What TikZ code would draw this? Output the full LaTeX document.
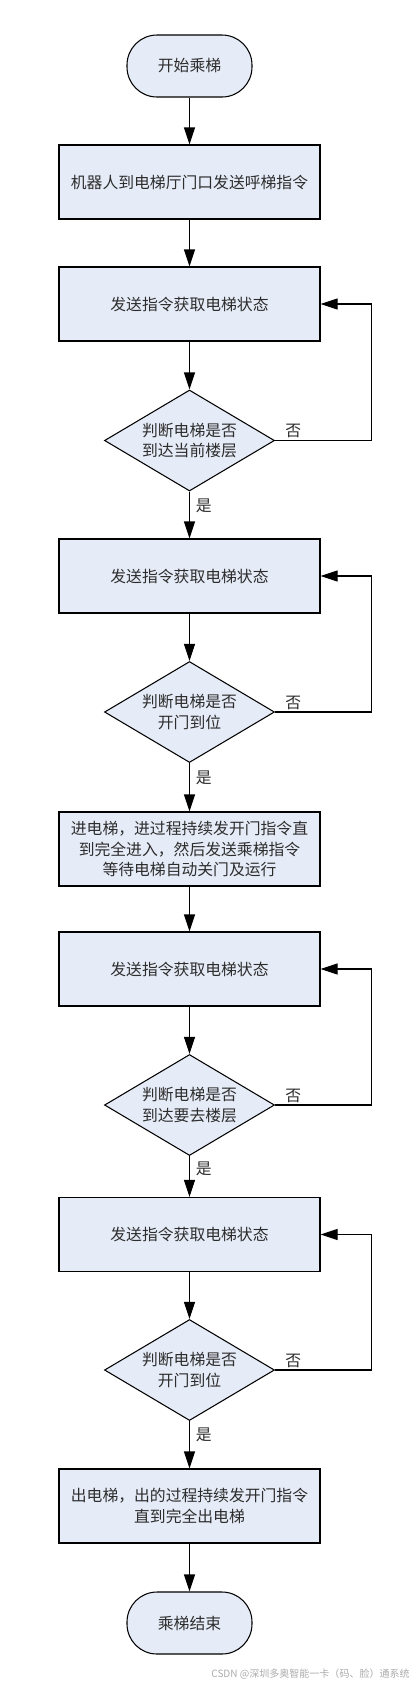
\documentclass[tikz,border=0pt]{standalone}
\usepackage{fontspec}
\setmainfont{Noto Sans CJK SC}
\usetikzlibrary{shapes.geometric,arrows.meta}
\definecolor{boxfill}{RGB}{230,236,247}
\definecolor{txt}{RGB}{45,45,45}
\begin{document}
\begin{tikzpicture}[line width=0.6pt, >={Triangle[length=3.4mm,width=2.2mm]},
    every node/.style={text=txt, font=\fontsize{9}{11.5}\selectfont},
    proc/.style={rectangle, draw, fill=boxfill, minimum width=5.22cm, minimum height=1.48cm, align=center},
    term/.style={rectangle, draw, fill=boxfill, rounded corners=0.6cm, minimum width=2.5cm, minimum height=1.24cm},
    decide/.style={diamond, draw, fill=boxfill, shape aspect=1.7, minimum width=3.4cm, minimum height=2.02cm, inner sep=0pt, align=center}]
      \useasboundingbox (0, 0) rectangle (8.38, -33.7);

      \node[term] (1) at (3.79, -1.32) {开始乘梯};
      \node[proc] (2) at (3.79, -3.64) {机器人到电梯厅门口发送呼梯指令};
      \node[proc] (3) at (3.79, -6.08) {发送指令获取电梯状态};
      \node[decide] (4) at (3.79, -8.81) {判断电梯是否\\到达当前楼层};
      \node[proc] (5) at (3.79, -11.52) {发送指令获取电梯状态};
      \node[decide] (6) at (3.79, -14.24) {判断电梯是否\\开门到位};
      \node[proc] (7) at (3.79, -16.98) {进电梯，进过程持续发开门指令直\\到完全进入，然后发送乘梯指令\\等待电梯自动关门及运行};
      \node[proc] (8) at (3.79, -19.38) {发送指令获取电梯状态};
      \node[decide] (9) at (3.79, -22.10) {判断电梯是否\\到达要去楼层};
      \node[proc] (10) at (3.79, -24.69) {发送指令获取电梯状态};
      \node[decide] (11) at (3.79, -27.40) {判断电梯是否\\开门到位};
      \node[proc] (12) at (3.79, -30.12) {出电梯，出的过程持续发开门指令\\直到完全出电梯};
      \node[term] (13) at (3.79, -32.46) {乘梯结束};
      \node[anchor=east, text=black!33, font=\fontsize{5.7}{7}\selectfont] (14) at (8.32, -33.48) {CSDN @深圳多奥智能一卡（码、脸）通系统};

      \draw[->] (1) -- (2);
      \draw[->] (2) -- (3);
      \draw[->] (3) -- (4);
      \draw[->] (4) -- node[pos=0.3, right] {是} (5);
      \draw[->] (5) -- (6);
      \draw[->] (6) -- node[pos=0.3, right] {是} (7);
      \draw[->] (7) -- (8);
      \draw[->] (8) -- (9);
      \draw[->] (9) -- node[pos=0.3, right] {是} (10);
      \draw[->] (10) -- (11);
      \draw[->] (11) -- node[pos=0.3, right] {是} (12);
      \draw[->] (12) -- (13);

      \draw[->] (4.east) -- node[pos=0.19, above, inner sep=1pt] {否} ++(1.93, 0) |- (3.east);
      \draw[->] (6.east) -- node[pos=0.19, above, inner sep=1pt] {否} ++(1.93, 0) |- (5.east);
      \draw[->] (9.east) -- node[pos=0.19, above, inner sep=1pt] {否} ++(1.93, 0) |- (8.east);
      \draw[->] (11.east) -- node[pos=0.19, above, inner sep=1pt] {否} ++(1.93, 0) |- (10.east);
    \end{tikzpicture}
\end{document}
